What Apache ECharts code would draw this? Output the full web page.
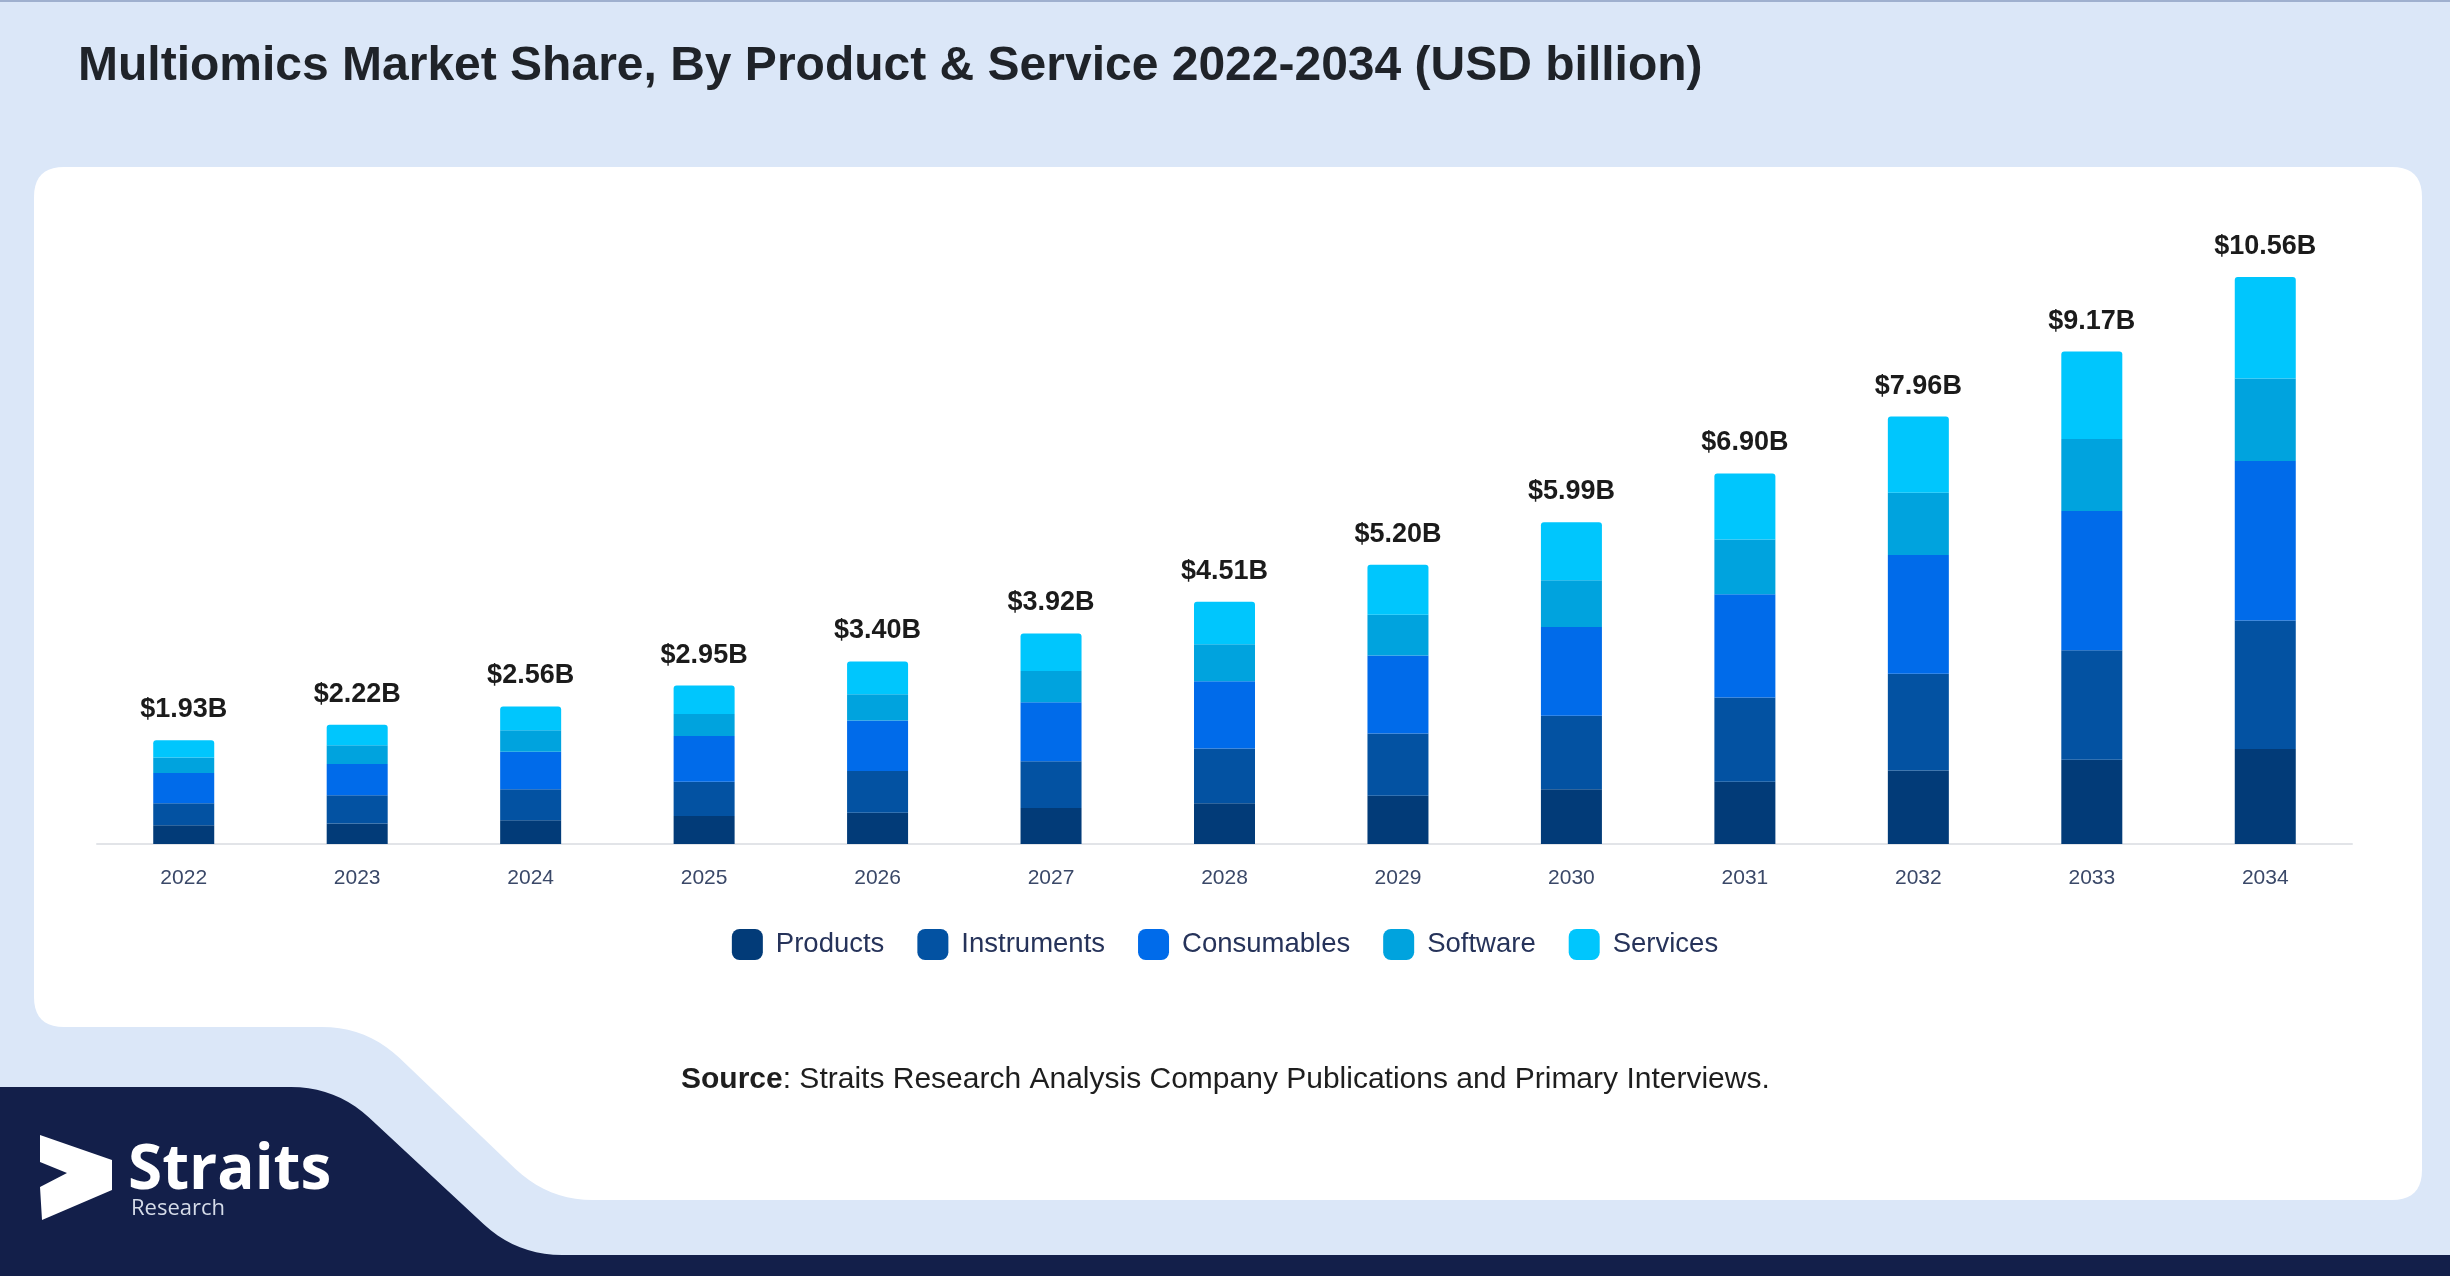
<!DOCTYPE html>
<html>
<head>
<meta charset="utf-8">
<script src="https://cdn.jsdelivr.net/npm/echarts@6/dist/echarts.min.js"></script>
<style>
html,body{margin:0;padding:0;background:#dbe7f8;}
#chart{width:2450px;height:1276px;}
</style>
</head>
<body>
<div id="chart"></div>
<script>
const years = ['2022','2023','2024','2025','2026','2027','2028','2029','2030','2031','2032','2033','2034'];
const totals = [1.93,2.22,2.56,2.95,3.40,3.92,4.51,5.20,5.99,6.90,7.96,9.17,10.56];
const products = [0.35,0.38,0.44,0.52,0.58,0.67,0.76,0.90,1.02,1.16,1.37,1.57,1.77];
const instruments = [0.41,0.53,0.58,0.64,0.78,0.87,1.02,1.16,1.37,1.57,1.80,2.04,2.39];
const consumables = [0.56,0.58,0.70,0.85,0.94,1.10,1.25,1.45,1.65,1.92,2.21,2.59,2.97];
const software = [0.29,0.35,0.40,0.41,0.49,0.58,0.69,0.76,0.87,1.02,1.16,1.34,1.54];
const services = [0.32,0.38,0.44,0.53,0.61,0.70,0.79,0.93,1.08,1.23,1.42,1.63,1.89];
const seriesNames = ['Products','Instruments','Consumables','Software','Services'];
const seriesColors = ['#023b78','#0352a2','#006bea','#00a3de','#00c6fd'];
const titleText = 'Multiomics Market Share, By Product & Service 2022-2034 (USD billion)';

function roundPoly(pts, radii, n) {
  n = n || 10;
  const out = [];
  const N = pts.length;
  for (let i = 0; i < N; i++) {
    const p0 = pts[(i - 1 + N) % N], p1 = pts[i], p2 = pts[(i + 1) % N];
    const r = Array.isArray(radii) ? radii[i] : radii;
    if (!r) { out.push(p1); continue; }
    const d0 = Math.hypot(p0[0] - p1[0], p0[1] - p1[1]);
    const d2 = Math.hypot(p2[0] - p1[0], p2[1] - p1[1]);
    const a = [p1[0] + (p0[0] - p1[0]) / d0 * r, p1[1] + (p0[1] - p1[1]) / d0 * r];
    const b = [p1[0] + (p2[0] - p1[0]) / d2 * r, p1[1] + (p2[1] - p1[1]) / d2 * r];
    for (let k = 0; k <= n; k++) {
      const t = k / n, u = 1 - t;
      out.push([u*u*a[0] + 2*u*t*p1[0] + t*t*b[0], u*u*a[1] + 2*u*t*p1[1] + t*t*b[1]]);
    }
  }
  return out;
}

const cardPts = roundPoly([[34,167],[2422,167],[2422,1200],[548,1200],[367,1027],[34,1027]], [30,30,30,45,45,30]);
const navyPts = roundPoly([[-10,1087],[336,1087],[517,1255],[2460,1255],[2460,1290],[-10,1290]], [0,45,45,0,0,0]);
const logoPts = [[40,1135],[112,1160],[112,1190],[42,1220],[40,1187],[67,1173],[40,1162]];

const chart = echarts.init(document.getElementById('chart'));
const series = [products, instruments, consumables, software, services].map((d, i) => ({
  name: seriesNames[i],
  type: 'bar',
  stack: 'total',
  data: d,
  barWidth: 61,
  itemStyle: { color: seriesColors[i], borderRadius: i === 4 ? [3,3,0,0] : 0 },
  label: i === 4 ? {
    show: true,
    position: 'top',
    distance: 17,
    formatter: p => '$' + totals[p.dataIndex].toFixed(2) + 'B',
    fontFamily: 'Liberation Sans, Arial, sans-serif',
    fontWeight: 'bold',
    fontSize: 27,
    color: '#1b1b1b'
  } : { show: false },
  z: 5
}));

chart.setOption({
  backgroundColor: '#dbe7f8',
  animation: false,
  title: {
    text: titleText,
    left: 78,
    top: 43,
    padding: 0,
    textStyle: { fontFamily: 'Liberation Sans, Arial, sans-serif', fontWeight: 'bold', fontSize: 48, color: '#1f2329' }
  },
  legend: {
    data: seriesNames,
    left: 'center',
    top: 929,
    padding: 0,
    itemWidth: 31,
    itemHeight: 31,
    itemGap: 33,
    icon: 'roundRect',
    textStyle: { fontFamily: 'Liberation Sans, Arial, sans-serif', fontSize: 27.5, color: '#26335a', padding: [0,0,0,8] }
  },
  grid: { left: 97, right: 98, top: 199.6, bottom: 432, containLabel: false },
  xAxis: {
    type: 'category',
    data: years,
    axisLine: { show: true, lineStyle: { color: '#e2e4e8', width: 2 } },
    axisTick: { show: false },
    axisLabel: { fontFamily: 'Liberation Sans, Arial, sans-serif', fontSize: 21, color: '#3a4868', margin: 24 }
  },
  yAxis: {
    type: 'value', min: 0, max: 12, show: false, splitLine: { show: false }
  },
  graphic: [
    { type: 'rect', shape: { x: 0, y: 0, width: 2450, height: 2 }, style: { fill: '#9fb0cf' }, z: -10 },
    { type: 'polygon', shape: { points: cardPts }, style: { fill: '#ffffff' }, z: -9 },
    { type: 'polygon', shape: { points: navyPts }, style: { fill: '#131f4a' }, z: -9 },
    { type: 'polygon', shape: { points: logoPts }, style: { fill: '#ffffff' }, z: -8 },
    { type: 'text', left: 128, top: 1140, style: { text: 'Straits', fill: '#ffffff', font: 'bold 62px "Open Sans", sans-serif' }, z: -8 },
    { type: 'text', left: 131, top: 1198, style: { text: 'Research', fill: '#d5dbe8', font: '22px "Open Sans", sans-serif' }, z: -8 },
    { type: 'text', left: 681, top: 1065, style: {
        text: '{b|Source}: Straits Research Analysis Company Publications and Primary Interviews.',
        font: '30px "Liberation Sans", Arial, sans-serif',
        fill: '#1e1e1e',
        rich: { b: { fontWeight: 'bold', fontSize: 30, fontFamily: 'Liberation Sans, Arial, sans-serif', fill: '#1e1e1e' } }
      }, z: -8 }
  ],
  series: series
});
</script>
</body>
</html>
